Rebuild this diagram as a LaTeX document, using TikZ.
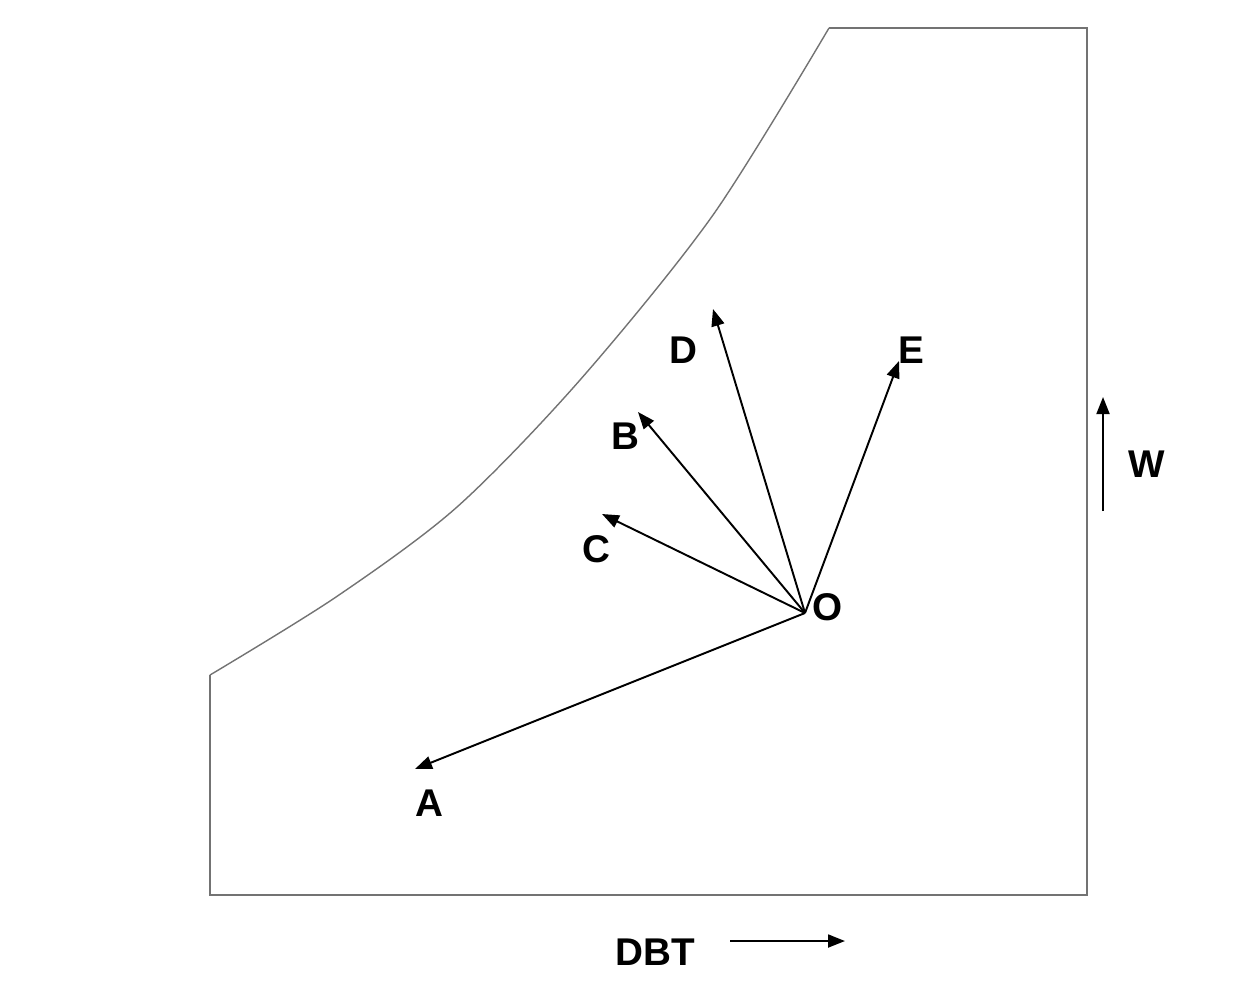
\documentclass[tikz,border=0pt]{standalone}
\usepackage{fontspec}
\setmainfont{Liberation Sans}
\usetikzlibrary{arrows.meta,positioning}

\begin{document}
\begin{tikzpicture}[x=0.02cm,y=-0.02cm,>={Triangle[length=0.34cm,width=0.26cm]},
      vec/.style={->,line width=1.1pt},
      label node/.style={font=\fontsize{22}{24}\selectfont\bfseries,inner sep=0pt},
      chart line/.style={draw=black!55,line width=0.8pt}]
      \useasboundingbox (0,0) rectangle (1250,992);

      % chart outline
      \draw[chart line] (210,675) -- (210,895) -- (1087,895) -- (1087,28) -- (829,28);
      \draw[chart line] plot[smooth,tension=0.5] coordinates
        {(210,675) (336,597) (457,507) (580,380) (713,215) (829,28)};

      % process end points
      \coordinate (o) at (805,613);
      \coordinate (a) at (415,769);
      \coordinate (c) at (602,514);
      \coordinate (b) at (638,412);
      \coordinate (d) at (713,309);
      \coordinate (e) at (899,361);

      \node[label node] (O) at (828,607) {O};
      \node[label node] (A) at (429,803) {A};
      \node[label node] (C) at (596,549) {C};
      \node[label node] (B) at (625,436) {B};
      \node[label node] (D) at (683,350) {D};
      \node[label node] (E) at (911,350) {E};

      \path[vec]
        (o) edge (a)
        (o) edge (c)
        (o) edge (b)
        (o) edge (d)
        (o) edge (e);

      % axis hints
      \coordinate (w1) at (1103,511);
      \coordinate (w2) at (1103,397);
      \node[label node] (W) at (1147,464) {W};
      \draw[vec] (w1) -- (w2);

      \node[label node] (DBT) at (655,952) {DBT};
      \coordinate (t1) at (730,941);
      \coordinate (t2) at (845,941);
      \draw[vec] (t1) -- (t2);
\end{tikzpicture}
\end{document}
